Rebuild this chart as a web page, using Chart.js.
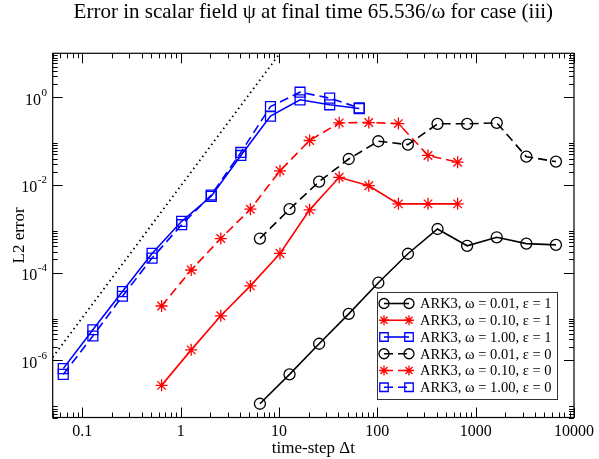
<!DOCTYPE html>
<html>
<head>
<meta charset="utf-8">
<script src="https://cdn.jsdelivr.net/npm/chart.js@4.4.1/dist/chart.umd.min.js"></script>
<style>
  html, body { margin: 0; padding: 0; background: #fff; }
  #wrap { width: 599px; height: 459px; position: relative; }
</style>
</head>
<body>
<div id="wrap"><canvas id="errChart"></canvas></div>
<script>
// ---- data ----
const dtOmega1   = [0.064, 0.128, 0.256, 0.512, 1.024, 2.048, 4.096, 8.192, 16.384, 32.768, 65.536];
const dtOmega01  = [0.64, 1.28, 2.56, 5.12, 10.24, 20.48, 40.96, 81.92, 163.84, 327.68, 655.36];
const dtOmega001 = [6.4, 12.8, 25.6, 51.2, 102.4, 204.8, 409.6, 819.2, 1638.4, 3276.8, 6553.6];

const errW001E1 = [1.03e-7, 4.8e-7, 2.4e-6, 1.15e-5, 5.9e-5, 2.7e-4, 9.9e-4, 4.1e-4, 6.4e-4, 4.6e-4, 4.3e-4];
const errW01E1  = [2.7e-7, 1.74e-6, 1.04e-5, 5.0e-5, 2.74e-4, 2.7e-3, 0.0149, 0.0096, 3.7e-3, 3.7e-3, 3.7e-3];
const errW1E1   = [6.5e-7, 5.0e-6, 3.7e-5, 2.75e-4, 1.48e-3, 5.5e-3, 0.047, 0.37, 0.87, 0.67, 0.55];
const errW001E0 = [6.0e-4, 2.8e-3, 0.0119, 0.039, 0.099, 0.083, 0.247, 0.247, 0.26, 0.044, 0.034];
const errW01E0  = [1.74e-5, 1.15e-4, 6.0e-4, 2.8e-3, 0.021, 0.103, 0.26, 0.264, 0.25, 0.047, 0.033];
const errW1E0   = [4.8e-7, 3.6e-6, 2.9e-5, 2.15e-4, 1.24e-3, 5.9e-3, 0.055, 0.61, 1.3, 0.95, 0.57];

// third order reference slope (dotted)
const refDt  = [0.05, 10];
const refErr = [1.18e-6, 9.4];

const seriesLabels = [
  'ARK3, ω = 0.01, ε = 1',
  'ARK3, ω = 0.10, ε = 1',
  'ARK3, ω = 1.00, ε = 1',
  'ARK3, ω = 0.01, ε = 0',
  'ARK3, ω = 0.10, ε = 0',
  'ARK3, ω = 1.00, ε = 0'
];
const xMajor = [0.1, 1, 10, 100, 1000, 10000];
const yMajorExp = [0, -2, -4, -6];

const SERIF = '"Liberation Serif", "DejaVu Serif", serif';
const DASH = [9, 5];

function pts(xs, ys) {
  return xs.map((x, i) => ({ x: x, y: ys[i] }));
}

function series(label, xs, ys, color, style, dashed) {
  const isRect = style === 'rect';
  return {
    label: label,
    data: pts(xs, ys),
    borderColor: color,
    backgroundColor: 'rgba(0,0,0,0)',
    borderWidth: 1.6,
    borderDash: dashed ? DASH : [],
    pointStyle: style,
    pointRadius: isRect ? 7 : (style === 'star' ? 6 : 5.5),
    pointBorderWidth: 1.3,
    pointBorderColor: color,
    pointBackgroundColor: 'rgba(0,0,0,0)',
    showLine: true,
    tension: 0
  };
}

const datasets = [
  series(seriesLabels[0], dtOmega001, errW001E1, '#000000', 'circle', false),
  series(seriesLabels[1], dtOmega01,  errW01E1,  '#ff0000', 'star',   false),
  series(seriesLabels[2], dtOmega1,   errW1E1,   '#0000ff', 'rect',   false),
  series(seriesLabels[3], dtOmega001, errW001E0, '#000000', 'circle', true),
  series(seriesLabels[4], dtOmega01,  errW01E0,  '#ff0000', 'star',   true),
  series(seriesLabels[5], dtOmega1,   errW1E0,   '#0000ff', 'rect',   true),
  {
    label: 'slope 3',
    data: pts(refDt, refErr),
    borderColor: '#000',
    borderWidth: 1.8,
    borderDash: [1.5, 3.5],
    pointRadius: 0,
    showLine: true
  }
];

// =============================================
// FRAME, INWARD TICKS, Y LABELS, LEGEND
// =============================================
function drawMarker(ctx, style, r, x, y, color) {
  ctx.save();
  ctx.strokeStyle = color;
  ctx.fillStyle = 'rgba(0,0,0,0)';
  ctx.lineWidth = 1.3;
  ctx.setLineDash([]);
  Chart.helpers.drawPoint(ctx, { pointStyle: style, rotation: 0, radius: r, borderWidth: 1.3 }, x, y);
  ctx.restore();
}

const gracePlugin = {
  id: 'grace',
  afterDatasetsDraw(chart) {
    const ctx = chart.ctx;
    const a = chart.chartArea;
    const xs = chart.scales.x, ys = chart.scales.y;
    ctx.save();
    ctx.strokeStyle = '#000';
    ctx.lineWidth = 1.2;
    ctx.setLineDash([]);
    ctx.strokeRect(a.left, a.top, a.right - a.left, a.bottom - a.top);

    ctx.lineWidth = 1;
    const tick = (x1, y1, x2, y2) => { ctx.beginPath(); ctx.moveTo(x1, y1); ctx.lineTo(x2, y2); ctx.stroke(); };

    // x ticks: decades + 2..9 in each decade
    for (let e = -2; e <= 4; e++) {
      for (let k = 1; k <= 9; k++) {
        const v = k * Math.pow(10, e);
        if (v < 0.05 * 0.999 || v > 10000 * 1.001) continue;
        const px = Math.round(xs.getPixelForValue(v)) + 0.5;
        const len = k === 1 ? 10 : 5;
        tick(px, a.bottom, px, a.bottom - len);
        tick(px, a.top, px, a.top + len);
      }
    }
    // y ticks: major every 2 decades, minors 2..9 x major
    for (let e = -8; e <= 0; e += 2) {
      for (let k = 1; k <= 9; k++) {
        const v = k * Math.pow(10, e);
        if (v < 5e-8 * 0.999 || v > 10 * 1.001) continue;
        const py = Math.round(ys.getPixelForValue(v)) + 0.5;
        const len = k === 1 ? 10 : 5;
        tick(a.left, py, a.left + len, py);
        tick(a.right, py, a.right - len, py);
      }
    }

    // y labels 10^n
    ctx.fillStyle = '#000';
    ctx.textBaseline = 'alphabetic';
    yMajorExp.forEach(n => {
      const py = ys.getPixelForValue(Math.pow(10, n));
      const ex = String(n);
      ctx.font = '11px ' + SERIF;
      const ew = ctx.measureText(ex).width;
      ctx.textAlign = 'right';
      ctx.fillText(ex, 47, py - 1.5);
      ctx.font = '16px ' + SERIF;
      ctx.fillText('10', 47 - ew - 0.5, py + 7.5);
    });

    // legend
    const lx = 377.5, ly = 292.5, lw = 180, lh = 107;
    ctx.fillStyle = '#fff';
    ctx.fillRect(lx, ly, lw, lh);
    ctx.strokeStyle = '#333';
    ctx.lineWidth = 1;
    ctx.strokeRect(lx, ly, lw, lh);
    ctx.font = '14.5px ' + SERIF;
    ctx.textAlign = 'left';
    ctx.textBaseline = 'middle';
    chart.data.datasets.slice(0, 6).forEach((ds, i) => {
      const cy = ly + 11 + i * 16.75;
      ctx.strokeStyle = ds.borderColor;
      ctx.lineWidth = ds.borderWidth;
      ctx.setLineDash(ds.borderDash);
      ctx.beginPath();
      ctx.moveTo(384, cy);
      ctx.lineTo(409, cy);
      ctx.stroke();
      ctx.setLineDash([]);
      const r = ds.pointStyle === 'rect' ? 6 : 5;
      drawMarker(ctx, ds.pointStyle, r, 384, cy, ds.borderColor);
      drawMarker(ctx, ds.pointStyle, r, 409, cy, ds.borderColor);
      ctx.fillStyle = '#000';
      ctx.fillText(ds.label, 420, cy + 1);
    });
    ctx.restore();
  }
};

new Chart(document.getElementById('errChart'), {
  type: 'scatter',
  data: { datasets },
  options: {
    responsive: true,
    maintainAspectRatio: false,
    animation: false,
    devicePixelRatio: 1,
    layout: { padding: { left: 0, right: 25, top: 0, bottom: 0 } },
    plugins: {
      legend: { display: false },
      tooltip: { enabled: false },
      title: {
        display: true,
        fullSize: false,
        text: 'Error in scalar field ψ at final time 65.536/ω for case (iii)',
        color: '#000',
        font: { family: SERIF, size: 21, weight: 'normal' },
        padding: { top: 0, bottom: 28.1 }
      }
    },
    scales: {
      x: {
        type: 'logarithmic',
        min: 0.05,
        max: 10000,
        grid: { display: false, drawTicks: false },
        border: { display: false },
        afterBuildTicks: s => { s.ticks = xMajor.map(v => ({ value: v })); },
        afterFit: s => { s.height = 41.5; },
        ticks: {
          color: '#000',
          font: { family: SERIF, size: 16 },
          padding: 5,
          maxRotation: 0,
          autoSkip: false,
          callback: v => String(v)
        },
        title: {
          display: true,
          text: 'time-step Δt',
          color: '#000',
          font: { family: SERIF, size: 17 },
          padding: { top: 0, bottom: 0 }
        }
      },
      y: {
        type: 'logarithmic',
        min: 5e-8,
        max: 10,
        grid: { display: false, drawTicks: false },
        border: { display: false },
        afterFit: s => { s.width = 52.7; },
        ticks: { display: false },
        title: {
          display: true,
          text: 'L2 error',
          color: '#000',
          font: { family: SERIF, size: 17 },
          padding: { top: 9, bottom: 0 }
        }
      }
    }
  },
  plugins: [gracePlugin]
});
</script>
</body>
</html>
